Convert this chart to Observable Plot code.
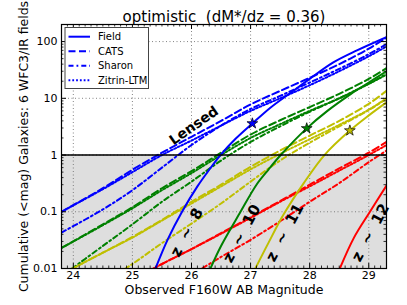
<!DOCTYPE html>
<html><head><meta charset="utf-8">
<script src="https://cdn.jsdelivr.net/npm/d3@7"></script>
<script src="https://cdn.jsdelivr.net/npm/@observablehq/plot@0.6"></script>
<style>
body{margin:0;background:#fff;}
#wrap{position:relative;width:407px;height:305px;font-family:"DejaVu Sans",sans-serif;}
#legend{position:absolute;left:0;top:0;}
</style></head><body><div id="wrap"></div>
<script>
// ---- data ----
const redshifts = [8, 10, 11, 12];
const zColors = ["#0000ff", "#008000", "#bfbf00", "#ff0000"];
const models = ["Field", "CATS", "Sharon", "Zitrin-LTM"];

// lensed (cumulative counts) on a common magnitude grid
const lensMag = [23.8, 24.5, 25.0, 25.5, 26.0, 26.5, 27.0, 27.5, 28.0, 28.5, 29.0, 29.3];
const z8_CATS   = [0.10, 0.26, 0.55, 1.1, 2.1, 4.0, 7.8, 13.5, 23, 40, 75, 118];
const z8_Sharon = [0.043, 0.11, 0.24, 0.6, 1.5, 3.3, 6.5, 11, 19, 33, 60, 90];
const z8_Zitrin = [0.10, 0.25, 0.5, 1.0, 1.8, 3.3, 6.0, 10, 17, 30, 55, 82];
const z10_CATS   = [0.023, 0.06, 0.12, 0.26, 0.52, 1.1, 2.3, 4.1, 7.0, 12, 22, 34];
const z10_Sharon = [0.0073, 0.025, 0.06, 0.15, 0.34, 0.8, 1.7, 3.2, 5.8, 10, 18, 27];
const z10_Zitrin = [0.023, 0.058, 0.115, 0.24, 0.48, 1.0, 2.0, 3.5, 6.0, 10, 18, 26];
const z11_CATS   = [0.0079, 0.019, 0.036, 0.072, 0.15, 0.3, 0.62, 1.2, 2.2, 4.0, 8.0, 13.5];
const z11_Sharon = [null, 0.0055, 0.012, 0.028, 0.062, 0.14, 0.34, 0.8, 1.65, 3.2, 6.2, 9.8];
const z11_Zitrin = [0.0079, 0.019, 0.035, 0.07, 0.14, 0.28, 0.56, 1.05, 1.9, 3.4, 6.3, 10];
const z12_CATS   = [null, null, 0.0062, 0.012, 0.022, 0.042, 0.08, 0.155, 0.3, 0.58, 1.1, 1.7];
const z12_Sharon = [null, null, null, null, 0.0077, 0.016, 0.032, 0.068, 0.15, 0.32, 0.75, 1.2];
const z12_Zitrin = [null, null, 0.0062, 0.012, 0.022, 0.041, 0.078, 0.15, 0.28, 0.53, 1.0, 1.5];

// field (unlensed) curves: [magnitude, cumulative count]
const z8_Field  = [[25.39,0.01],[25.6,0.033],[25.84,0.1],[26.1,0.28],[26.3,0.55],[26.49,1.0],[26.75,1.95],[27.03,3.6],[27.34,6.9],[27.7,13],[28.0,22],[28.4,43],[28.8,70],[29.3,120]];
const z10_Field = [[26.32,0.01],[26.5,0.025],[26.83,0.1],[27.1,0.3],[27.3,0.55],[27.51,1.0],[27.95,2.95],[28.3,6],[28.7,12],[29.0,19],[29.3,30]];
const z11_Field = [[27.08,0.01],[27.3,0.028],[27.56,0.09],[27.9,0.32],[28.25,1.0],[28.68,2.7],[29.0,5.0],[29.3,8.5]];
const z12_Field = [[28.51,0.01],[28.75,0.035],[29.02,0.1],[29.3,0.29]];

// star markers
const starMag = [27.03, 27.95, 28.68];
const starN = [3.6, 2.95, 2.7];
const starZ = [8, 10, 11];

// annotations
const zLabels = ["z\u00a0 ~\u00a0 8", "z\u00a0 ~\u00a0 10", "z\u00a0 ~\u00a0 11", "z\u00a0 ~\u00a0 12"];
const zLabelMag = [25.92, 26.85, 27.58, 29.03];
const zLabelN = [0.043, 0.041, 0.043, 0.043];
const lensedLabel = "Lensed";
const lensedLabelMag = 26.04, lensedLabelN = 3.3;

const xTicks = [24, 25, 26, 27, 28, 29];
const yTicks = [0.01, 0.1, 1, 10, 100];
const yTickLabels = ["0.01", "0.1", "1", "10", "100"];
const xDomain = [23.8, 29.3];
const yDomain = [0.01, 200];
const lensThreshold = 1;
const titleText = "optimistic\u00a0 (dM*/dz = 0.36)";
const xLabel = "Observed F160W AB Magnitude";
const yLabel = "Cumulative (<mag) Galaxies: 6 WFC3/IR fields";

// ---- build tables ----
const colorOf = z => zColors[redshifts.indexOf(z)];
const lensSets = {
  "CATS": [z8_CATS, z10_CATS, z11_CATS, z12_CATS],
  "Sharon": [z8_Sharon, z10_Sharon, z11_Sharon, z12_Sharon],
  "Zitrin-LTM": [z8_Zitrin, z10_Zitrin, z11_Zitrin, z12_Zitrin]
};
function lensRows(model) {
  return redshifts.flatMap((z, i) => lensMag.map((m, j) => ({z, mag: m, n: lensSets[model][i][j], c: colorOf(z)})))
    .filter(d => d.n != null);
}
const fieldSets = [z8_Field, z10_Field, z11_Field, z12_Field];
const fieldRows = redshifts.flatMap((z, i) => fieldSets[i].map(([m, n]) => ({z, mag: m, n, c: colorOf(z)})));
const stars = starMag.map((m, i) => ({mag: m, n: starN[i], c: colorOf(starZ[i])}));
const zLab = zLabels.map((t, i) => ({t, mag: zLabelMag[i], n: zLabelN[i]}));

const W = 407, H = 305, mL = 61, mR = 21, mT = 24, mB = 37;
const fw = W - mL - mR, fh = H - mT - mB;
const xMinor = d3.range(238, 294).map(i => i / 10).filter(v => Math.abs(v - Math.round(v)) > 1e-6);
const yMinor = yTicks.flatMap(d => d3.range(2, 10).map(k => +(k * d).toPrecision(3))).filter(v => v <= yDomain[1]);

const dashes = {"CATS": "7,3.5", "Sharon": "5,3,1.8,3", "Zitrin-LTM": "1.8,2"};
const lineOpts = (dash) => ({x: "mag", y: "n", z: "z", stroke: "c", strokeWidth: 2, strokeDasharray: dash, curve: "catmull-rom", clip: true});

const chart = Plot.plot({
  width: W, height: H,
  marginLeft: mL, marginRight: mR, marginTop: mT, marginBottom: mB,
  style: {fontFamily: "DejaVu Sans, sans-serif", fontSize: "11px", background: "white", color: "black"},
  x: {domain: xDomain},
  y: {type: "log", domain: yDomain},
  color: {type: "identity"},
  marks: [
    Plot.rect([0], {x1: xDomain[0], x2: xDomain[1], y1: yDomain[0], y2: lensThreshold, fill: "#dedede"}),
    Plot.ruleX(xTicks, {stroke: "#666", strokeWidth: 0.8, strokeDasharray: "1,2.5"}),
    Plot.ruleY(yTicks, {stroke: "#666", strokeWidth: 0.8, strokeDasharray: "1,2.5"}),
    Plot.line(lensRows("CATS"), lineOpts(dashes["CATS"])),
    Plot.line(lensRows("Sharon"), lineOpts(dashes["Sharon"])),
    Plot.line(lensRows("Zitrin-LTM"), lineOpts(dashes["Zitrin-LTM"])),
    Plot.line(fieldRows, {x: "mag", y: "n", z: "z", stroke: "c", strokeWidth: 2, curve: "catmull-rom", clip: true}),
    Plot.ruleY([lensThreshold], {stroke: "black", strokeWidth: 1.6}),
    Plot.dot(stars, {x: "mag", y: "n", symbol: "star", r: 3.4, fill: "c", stroke: "black", strokeWidth: 0.7}),
    Plot.text(zLab, {x: "mag", y: "n", text: "t", rotate: -62, fontSize: 15, fontWeight: "bold", fill: "black"}),
    Plot.text([lensedLabel], {x: () => lensedLabelMag, y: () => lensedLabelN, text: d => d, rotate: -35, fontSize: 14, fontWeight: "bold", fill: "black"}),
    // ticks (inward)
    Plot.ruleX(xTicks, {insetTop: fh - 5, stroke: "black"}),
    Plot.ruleX(xTicks, {insetBottom: fh - 5, stroke: "black"}),
    Plot.ruleX(xMinor, {insetTop: fh - 2.5, stroke: "black", strokeWidth: 0.8}),
    Plot.ruleX(xMinor, {insetBottom: fh - 2.5, stroke: "black", strokeWidth: 0.8}),
    Plot.ruleY(yTicks, {insetRight: fw - 5, stroke: "black"}),
    Plot.ruleY(yTicks, {insetLeft: fw - 5, stroke: "black"}),
    Plot.ruleY(yMinor, {insetRight: fw - 2.5, stroke: "black", strokeWidth: 0.8}),
    Plot.ruleY(yMinor, {insetLeft: fw - 2.5, stroke: "black", strokeWidth: 0.8}),
    Plot.frame({stroke: "black", strokeWidth: 1.2}),
    Plot.axisX(xTicks, {tickSize: 0, tickPadding: 3, fontSize: 11, label: null}),
    Plot.axisY(yTicks, {tickSize: 0, tickPadding: 4, fontSize: 11, label: null, tickFormat: d => yTickLabels[yTicks.indexOf(d)]}),
    Plot.text([titleText], {frameAnchor: "top", lineAnchor: "middle", textAnchor: "middle", dy: -7.5, fontSize: 15, text: d => d, fill: "black"}),
    Plot.text([xLabel], {frameAnchor: "bottom", lineAnchor: "middle", textAnchor: "middle", dy: 21, fontSize: 12.5, text: d => d, fill: "black"}),
    Plot.text([yLabel], {frameAnchor: "left", lineAnchor: "middle", textAnchor: "middle", dx: -38, rotate: -90, fontSize: 12.5, text: d => d, fill: "black"})
  ]
});
const wrap = document.getElementById("wrap");
wrap.appendChild(chart);

// ---- legend ----
const lg = d3.select(wrap).append("svg").attr("id", "legend").attr("width", W).attr("height", H);
const bx = 65, by = 27.5, bw = 83.5, bh = 61;
lg.append("rect").attr("x", bx).attr("y", by).attr("width", bw).attr("height", bh)
  .attr("fill", "white").attr("stroke", "#444").attr("stroke-width", 1);
const legDash = {"Field": null, "CATS": dashes["CATS"], "Sharon": dashes["Sharon"], "Zitrin-LTM": dashes["Zitrin-LTM"]};
models.forEach((m, i) => {
  const y = by + 9.2 + i * 14.5;
  lg.append("line").attr("x1", bx + 3.5).attr("x2", bx + 25).attr("y1", y).attr("y2", y)
    .attr("stroke", zColors[0]).attr("stroke-width", 2).attr("stroke-dasharray", legDash[m]);
  lg.append("text").attr("x", bx + 33).attr("y", y).attr("dy", "0.35em")
    .attr("font-family", "DejaVu Sans, sans-serif").attr("font-size", 10).text(m);
});
</script></body></html>
